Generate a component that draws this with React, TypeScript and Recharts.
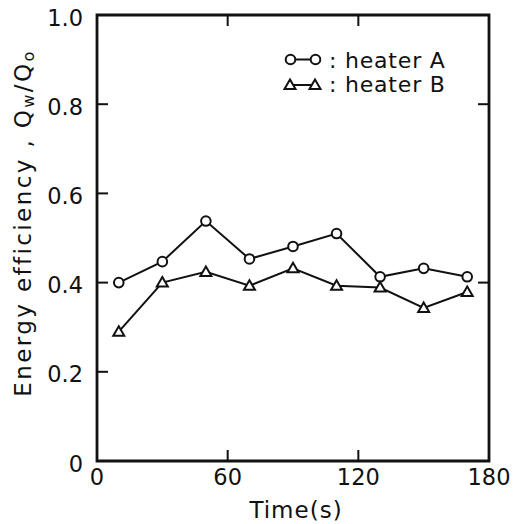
import { LineChart, Line, XAxis, YAxis, Legend, ReferenceArea, ReferenceLine } from "recharts";

const times = [10, 30, 50, 70, 90, 110, 130, 150, 170];
const heaterA = [0.4, 0.447, 0.538, 0.453, 0.481, 0.51, 0.413, 0.432, 0.413];
const heaterB = [0.29, 0.4, 0.424, 0.393, 0.432, 0.393, 0.389, 0.343, 0.379];
const xTicks = [0, 60, 120, 180];
const yTicks = [0, 0.2, 0.4, 0.6, 0.8, 1.0];
// inward tick marks on each side of the frame
const leftMarks = [0.2, 0.4, 0.6, 0.8];
const rightMarks = [0.4, 0.8];
const bottomMarks = [60, 120];
const topMarks = [60, 120];

const data = times.map((t, i) => ({ t, a: heaterA[i], b: heaterB[i] }));

const FONT = "'DejaVu Sans', sans-serif";
const INK = "#111";

// plot box is 392 x 446 px, tick marks are 11 px long
const TX = (11 * 180) / 392;
const TY = 11 / 446;

const LeftTick = (props: any) => {
  const { x, y, payload } = props;
  const v = payload.value as number;
  return (
    <text x={x - 14} y={y + 10.5} textAnchor="end" fontSize={22.5} fontFamily={FONT} fill={INK}>
      {v === 0 ? "0" : v.toFixed(1)}
    </text>
  );
};

const BottomTick = (props: any) => {
  const { x, y, payload } = props;
  return (
    <text x={x} y={y + 24} textAnchor="middle" fontSize={22.5} fontFamily={FONT} fill={INK}>
      {payload.value}
    </text>
  );
};

const YLabel = (props: any) => {
  const vb = props.viewBox;
  const x = vb.x + 31;
  const y = vb.y + 208;
  return (
    <text
      x={x}
      y={y}
      transform={`rotate(-90 ${x} ${y})`}
      textAnchor="middle"
      fontSize={23}
      fontFamily={FONT}
      letterSpacing={2.4}
      fill={INK}
    >
      Energy efficiency , Q
      <tspan fontSize={16} dy={3}>w</tspan>
      <tspan dy={-3}>/Q</tspan>
      <tspan fontSize={16} dy={3}>o</tspan>
    </text>
  );
};

const XLabel = (props: any) => {
  const vb = props.viewBox;
  return (
    <text
      x={vb.x + vb.width / 2 + 3}
      y={vb.y + 57}
      textAnchor="middle"
      fontSize={23}
      fontFamily={FONT}
      letterSpacing={1}
      fill={INK}
    >
      Time(s)
    </text>
  );
};

const Triangle = ({ cx, cy }: { cx: number; cy: number }) => (
  <polygon
    points={`${cx},${cy - 5.5} ${cx + 5.5},${cy + 4} ${cx - 5.5},${cy + 4}`}
    fill="#fff"
    stroke={INK}
    strokeWidth={2}
  />
);

const LegendBox = () => (
  <svg width={180} height={52}>
    <line x1={10} x2={35} y1={14.5} y2={14.5} stroke={INK} strokeWidth={2} />
    <circle cx={10.5} cy={14.5} r={4.8} fill="#fff" stroke={INK} strokeWidth={2} />
    <circle cx={35.5} cy={14.5} r={4.8} fill="#fff" stroke={INK} strokeWidth={2} />
    <text x={49} y={23} fontSize={22} fontFamily={FONT} fill={INK} letterSpacing={0.8}>
      : heater A
    </text>
    <line x1={10} x2={35} y1={40} y2={40} stroke={INK} strokeWidth={2} />
    <Triangle cx={10} cy={40} />
    <Triangle cx={35} cy={40} />
    <text x={49} y={47} fontSize={22} fontFamily={FONT} fill={INK} letterSpacing={0.8}>
      : heater B
    </text>
  </svg>
);

const markProps = { stroke: INK, strokeWidth: 2, ifOverflow: "visible" as const };

export default function App() {
  return (
    <div style={{ position: "absolute", left: 0, top: 0, background: "#fff" }}>
      <LineChart width={514} height={524} data={data} margin={{ top: 15, right: 25, left: 0, bottom: 0 }}>
        <XAxis
          dataKey="t"
          type="number"
          domain={[0, 180]}
          ticks={xTicks}
          height={63}
          tickSize={0}
          tickMargin={0}
          tickLine={false}
          axisLine={false}
          tick={<BottomTick />}
          label={<XLabel />}
        />
        <YAxis
          type="number"
          domain={[0, 1]}
          ticks={yTicks}
          width={97}
          tickSize={0}
          tickMargin={0}
          tickLine={false}
          axisLine={false}
          tick={<LeftTick />}
          label={<YLabel />}
        />
        <ReferenceArea x1={0} x2={180} y1={0} y2={1} fill="none" stroke={INK} strokeWidth={2.8} ifOverflow="visible" />
        {leftMarks.map((v) => (
          <ReferenceLine key={`l${v}`} segment={[{ x: 0, y: v }, { x: TX, y: v }]} {...markProps} />
        ))}
        {rightMarks.map((v) => (
          <ReferenceLine key={`r${v}`} segment={[{ x: 180 - TX, y: v }, { x: 180, y: v }]} {...markProps} />
        ))}
        {bottomMarks.map((v) => (
          <ReferenceLine key={`b${v}`} segment={[{ x: v, y: 0 }, { x: v, y: TY }]} {...markProps} />
        ))}
        {topMarks.map((v) => (
          <ReferenceLine key={`t${v}`} segment={[{ x: v, y: 1 - TY }, { x: v, y: 1 }]} {...markProps} />
        ))}
        <Legend
          layout="horizontal"
          verticalAlign="middle"
          align="center"
          content={() => <LegendBox />}
          wrapperStyle={{ left: 280, top: 45, width: 180, height: 52 }}
        />
        <Line
          dataKey="a"
          name="heater A"
          type="linear"
          stroke={INK}
          strokeWidth={2}
          isAnimationActive={false}
          dot={(p: any) => (
            <circle key={`a-${p.index}`} cx={p.cx} cy={p.cy} r={4.8} fill="#fff" stroke={INK} strokeWidth={2} />
          )}
        />
        <Line
          dataKey="b"
          name="heater B"
          type="linear"
          stroke={INK}
          strokeWidth={2}
          isAnimationActive={false}
          dot={(p: any) => <Triangle key={`b-${p.index}`} cx={p.cx} cy={p.cy} />}
        />
      </LineChart>
    </div>
  );
}
